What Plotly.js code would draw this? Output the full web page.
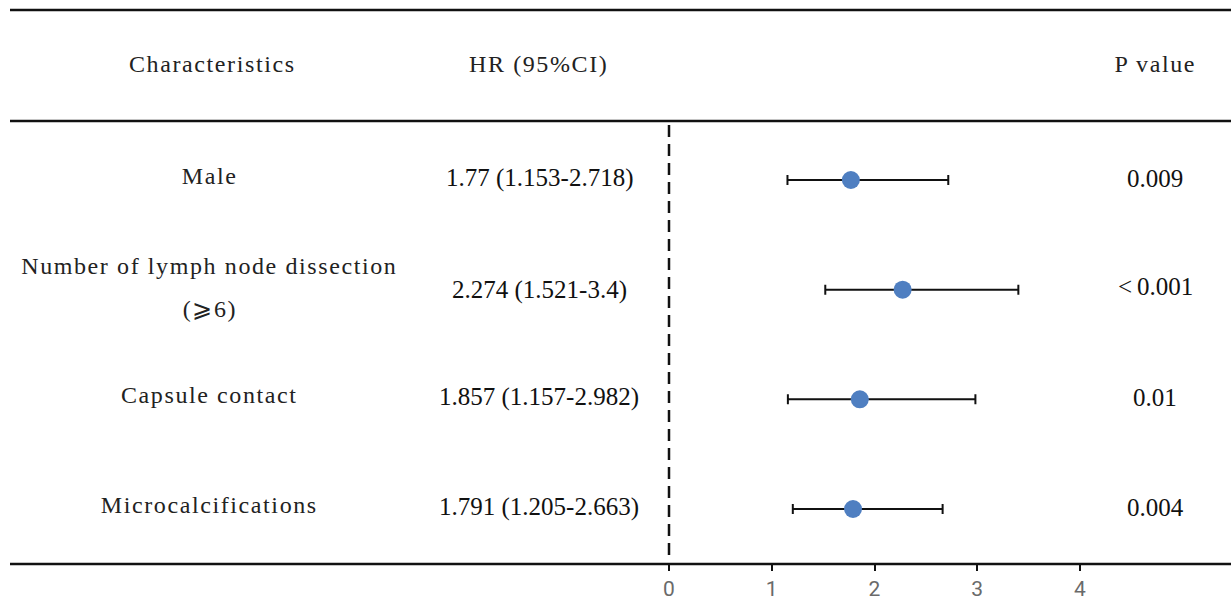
<!DOCTYPE html>
<html>
<head>
<meta charset="utf-8">
<script src="https://cdn.plot.ly/plotly-3.0.1.min.js"></script>
<style>
html,body{margin:0;padding:0;background:#fff;}
#chart{width:1232px;height:601px;}
</style>
</head>
<body>
<div id="chart"></div>
<script>
// ---- data ----
var characteristics = ["Male", "Number of lymph node dissection<br>(\u2a7e6)", "Capsule contact", "Microcalcifications"];
var hr = [1.77, 2.274, 1.857, 1.791];
var ciLower = [1.153, 1.521, 1.157, 1.205];
var ciUpper = [2.718, 3.4, 2.982, 2.663];
var hrLabels = ["1.77 (1.153-2.718)", "2.274 (1.521-3.4)", "1.857 (1.157-2.982)", "1.791 (1.205-2.663)"];
var pValues = ["0.009", "<\u20090.001", "0.01", "0.004"];
var headers = ["Characteristics", "HR (95%CI)", "P value"];
var xTicks = [0, 1, 2, 3, 4];

var W = 1232, H = 601;
var rowPos = characteristics.map(function(_, i){ return characteristics.length - i; }); // 4,3,2,1

var trace = {
  type: "scatter",
  mode: "markers",
  x: hr,
  y: rowPos,
  marker: {color: "#4f7fc1", size: 18},
  error_x: {
    type: "data",
    symmetric: false,
    array: hr.map(function(v, i){ return ciUpper[i] - v; }),
    arrayminus: hr.map(function(v, i){ return v - ciLower[i]; }),
    color: "#111",
    thickness: 2,
    width: 5
  },
  hoverinfo: "skip",
  showlegend: false
};

var px = function(p){ return p / W; };
var py = function(p){ return 1 - p / (H - 37); };

var serif = "Liberation Serif, Times New Roman, serif";
var wideTexts = [];
var ann = [];
var hx = [212, 538, 1155];
headers.forEach(function(h, i){
  wideTexts.push(h);
  ann.push({text: h, x: px(hx[i]), y: py(64), xref: "paper", yref: "paper", showarrow: false, xanchor: "center", yanchor: "middle", font: {family: serif, size: 24, color: "#222"}});
});

characteristics.forEach(function(c, i){
  var lines = c.split("<br>");
  var n = lines.length;
  lines.forEach(function(line, k){
    wideTexts.push(line);
    var shift = (n === 1) ? 4 : (21.5 - 43 * k + 2);
    ann.push({text: line, x: px(210), y: rowPos[i], xref: "paper", yref: "y", showarrow: false, xanchor: "center", yanchor: "middle", font: {family: serif, size: 24, color: "#222"}, yshift: shift});
  });
  ann.push({text: hrLabels[i], x: px(539), y: rowPos[i], xref: "paper", yref: "y", showarrow: false, xanchor: "center", yanchor: "middle", font: {family: serif, size: 25, color: "#111"}, yshift: (i === 1 ? 0 : 2)});
  ann.push({text: pValues[i], x: px(1155), y: rowPos[i], xref: "paper", yref: "y", showarrow: false, xanchor: "center", yanchor: "middle", font: {family: serif, size: 25, color: "#111"}, yshift: (i === 1 ? 3 : 2)});
});

var pxPerUnit = (1080 - 669) / 4;
var xmin = -669 / pxPerUnit;
var xmax = (W - 669) / pxPerUnit;

var yPerUnit = (509 - 180) / 3;
var ymin = 1 - (564 - 509) / yPerUnit;
var ymax = 4 + 180 / yPerUnit;

var layout = {
  width: W, height: H,
  margin: {l: 0, r: 0, t: 0, b: 37, pad: 0},
  paper_bgcolor: "#fff",
  plot_bgcolor: "#fff",
  xaxis: {
    range: [xmin, xmax],
    tickvals: xTicks,
    ticktext: xTicks.map(String),
    ticks: "outside",
    ticklen: 6,
    tickwidth: 2,
    tickcolor: "#111",
    ticklabelstandoff: 0,
    showgrid: false,
    zeroline: false,
    showline: false,
    tickfont: {family: "Roboto, Noto Sans, sans-serif", size: 21, color: "#6a6a6a"},
    fixedrange: true
  },
  yaxis: {
    range: [ymin, ymax],
    showticklabels: false,
    showgrid: false,
    zeroline: false,
    showline: false,
    ticks: "",
    fixedrange: true
  },
  shapes: [
    {type: "line", xref: "paper", yref: "paper", x0: px(10), x1: px(1231), y0: py(10), y1: py(10), line: {color: "#111", width: 2.5}},
    {type: "line", xref: "paper", yref: "paper", x0: px(10), x1: px(1231), y0: py(121), y1: py(121), line: {color: "#111", width: 2.5}},
    {type: "line", xref: "paper", yref: "paper", x0: px(10), x1: px(1231), y0: 0, y1: 0, line: {color: "#111", width: 2.5}},
    {type: "line", xref: "x", yref: "paper", x0: 0, x1: 0, y0: py(125), y1: py(559), line: {color: "#111", width: 2.5, dash: "12px,7px"}}
  ],
  annotations: ann
};

Plotly.newPlot("chart", [trace], layout, {displayModeBar: false, staticPlot: true}).then(function(){
  document.querySelectorAll(".annotation-text").forEach(function(t){
    if (wideTexts.indexOf(t.textContent) >= 0) {
      t.style.letterSpacing = "1.6px";
    }
  });
});
</script>
</body>
</html>
